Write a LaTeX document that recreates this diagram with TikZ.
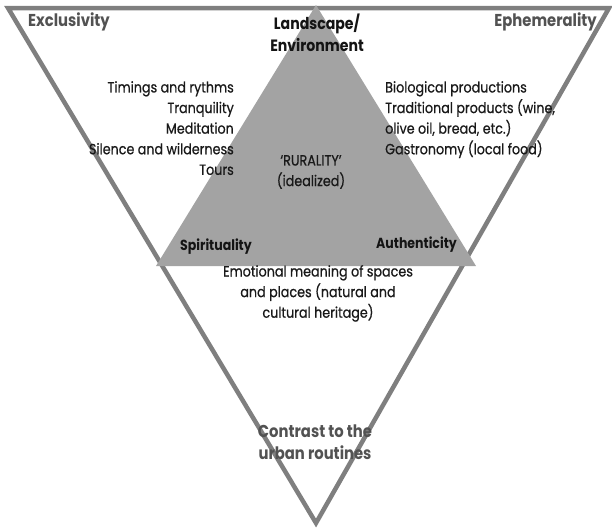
\documentclass[tikz,border=0pt]{standalone}
\usepackage{fontspec}
\setmainfont{Poppins}[FakeStretch=0.86]
\newfontfamily\lblfont{Poppins}[FakeStretch=0.86, FakeBold=0.6]
\begin{document}
\begin{tikzpicture}[x=1pt,y=-1pt,
  lbl/.style={font=\lblfont\fontsize{14.8}{20.6}\selectfont, text=black!90, inner sep=0pt},
  head/.style={font=\fontsize{14.6}{22}\selectfont\bfseries, text=black!92, inner sep=0pt},
  bighead/.style={font=\fontsize{16.4}{22}\selectfont\bfseries, text=black!92, inner sep=0pt},
  headgray/.style={font=\fontsize{17.2}{22}\selectfont\bfseries, text=black!68, inner sep=0pt}]
\useasboundingbox (0,0) rectangle (612,528);
\definecolor{outerline}{HTML}{7F7F7F}
\definecolor{innerfill}{HTML}{A3A3A3}
% outer inverted triangle
\coordinate (OL) at (8,8);
\coordinate (OR) at (609,8);
\coordinate (OB) at (316,523);
\draw[outerline, line width=4.5pt, line join=miter] (OL) -- (OR) -- (OB) -- cycle;
% inner gray triangle
\coordinate (IT) at (316,5);
\coordinate (IL) at (156,266);
\coordinate (IR) at (476,266);
\fill[innerfill] (IT) -- (IR) -- (IL) -- cycle;
% texts
\node[headgray, anchor=west] (excl) at (28,22) {Exclusivity};
\node[headgray, anchor=east] (ephe) at (597,22) {Ephemerality};
\node[bighead, align=center] (land) at (317,33) {Landscape/\\Environment};
\node[lbl, align=right, anchor=north east] (left) at (234,81) {Timings and rythms\\Tranquility\\Meditation\\Silence and wilderness\\Tours};
\node[lbl, align=left, anchor=north west] (right) at (385,81) {Biological productions\\Traditional products (wine,\\olive oil, bread, etc.)\\Gastronomy (local food)};
\node[lbl, align=center] (rur) at (311,172) {‘RURALITY’\\(idealized)};
\node[head, anchor=west] (spir) at (180,247) {Spirituality};
\node[head, anchor=east] (auth) at (457,245) {Authenticity};
\node[lbl, align=center, anchor=north] (emo) at (318,265) {Emotional meaning of spaces\\and places (natural and\\cultural heritage)};
\node[headgray, align=center] (cont) at (315,442) {Contrast to the\\urban routines};
\end{tikzpicture}
\end{document}
